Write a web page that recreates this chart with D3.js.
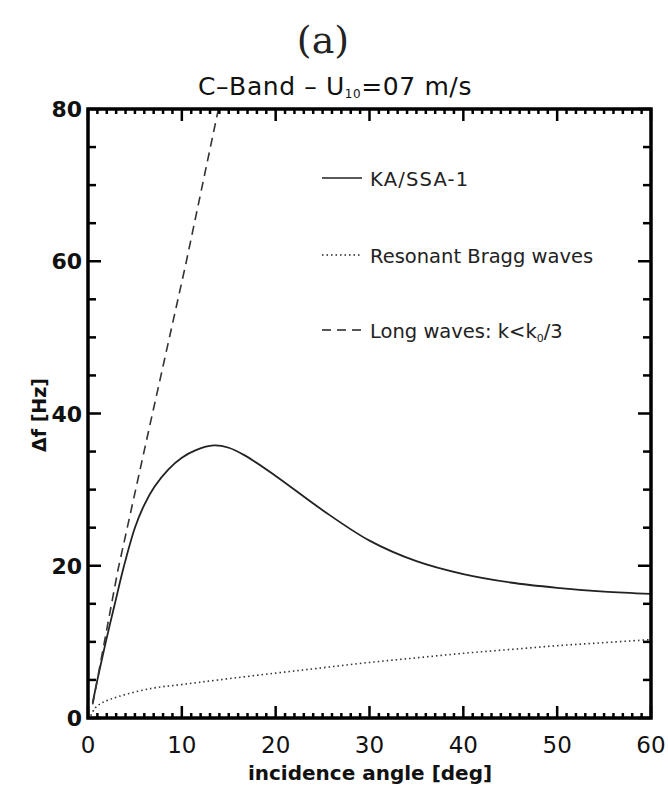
<!DOCTYPE html>
<html><head><meta charset="utf-8">
<script src="https://cdn.jsdelivr.net/npm/d3@7"></script>
<style>body{margin:0;background:#fff}</style>
</head><body>
<svg id="c" width="668" height="786"></svg>
<script>
const xTicks = [0,10,20,30,40,50,60];
const yTicks = [0,20,40,60,80];
const kaSsa = [[0.5,2.0],[1.0,5],[1.9,10],[2.9,15.2],[3.8,19.8],[5.0,25],[6.0,28],[7.1,30.4],[8.6,32.7],[10,34.2],[11.5,35.2],[13.4,35.8],[15,35.5],[16.7,34.5],[20,31.8],[25,27.3],[30,23.3],[35,20.6],[40,18.9],[45,17.8],[50,17.1],[55,16.6],[60,16.3]];
const bragg = [[0.3,0.3],[0.75,1.3],[1.5,2.0],[3.2,2.8],[6.8,3.9],[10,4.4],[13.9,5.0],[20,5.9],[25,6.6],[30,7.3],[35,7.9],[40,8.5],[45,9.0],[50,9.5],[55,9.9],[60,10.3]];
const longW = [[0.5,1.8],[3.2,19.5],[6.6,38.5],[10.4,59.5],[13.9,80]];
const legendLabels = ["KA/SSA-1","Resonant Bragg waves","Long waves: k<k"];

const svg = d3.select("#c");
const L=88,R=651,T=109,B=718;
const x = d3.scaleLinear().domain([0,60]).range([L,R]);
const y = d3.scaleLinear().domain([0,80]).range([B,T]);
const font = "'DejaVu Sans', sans-serif";

// title
svg.append("text").attr("x",323).attr("y",53).attr("text-anchor","middle")
  .attr("font-family","'DejaVu Serif', serif").attr("font-size",38).attr("fill","#222").text("(a)");
const tt = svg.append("text").attr("x",335).attr("y",95).attr("text-anchor","middle")
  .attr("font-family",font).attr("font-size",25).attr("letter-spacing",0.6).attr("fill","#111");
tt.append("tspan").text("C\u2013Band  \u2013  U");
tt.append("tspan").attr("font-size",12).attr("dy",3).text("10");
tt.append("tspan").attr("dy",-3).text("=07 m/s");

// clip
svg.append("clipPath").attr("id","clip").append("rect").attr("x",L).attr("y",T).attr("width",R-L).attr("height",B-T);

const line = d3.line().x(d=>x(d[0])).y(d=>y(d[1])).curve(d3.curveCatmullRom.alpha(0.5));
const g = svg.append("g").attr("clip-path","url(#clip)");
g.append("path").datum(kaSsa).attr("d",line).attr("fill","none").attr("stroke","#222").attr("stroke-width",1.8);
g.append("path").datum(bragg).attr("d",line).attr("fill","none").attr("stroke","#333").attr("stroke-width",1.6).attr("stroke-dasharray","1.5,3");
g.append("path").datum(longW).attr("d",d3.line().x(d=>x(d[0])).y(d=>y(d[1]))).attr("fill","none").attr("stroke","#333").attr("stroke-width",1.6).attr("stroke-dasharray","9,6");

// axes (inward ticks)
const ax = svg.append("g").attr("stroke","#000");
const xMinor = d3.range(0,61,1), yMinor = d3.range(0,81,5);
xMinor.forEach(v=>{
  const len = v%10===0?12:5;
  ax.append("line").attr("x1",x(v)).attr("x2",x(v)).attr("y1",B).attr("y2",B-len).attr("stroke-width",2.5);
  ax.append("line").attr("x1",x(v)).attr("x2",x(v)).attr("y1",T).attr("y2",T+len).attr("stroke-width",2.5);
});
yMinor.forEach(v=>{
  const len = v%20===0?13:8;
  ax.append("line").attr("x1",L).attr("x2",L+len).attr("y1",y(v)).attr("y2",y(v)).attr("stroke-width",2.5);
  ax.append("line").attr("x1",R).attr("x2",R-len).attr("y1",y(v)).attr("y2",y(v)).attr("stroke-width",2.5);
});
svg.append("rect").attr("x",L).attr("y",T).attr("width",R-L).attr("height",B-T).attr("fill","none").attr("stroke","#000").attr("stroke-width",3.5);

xTicks.forEach(v=>{
  svg.append("text").attr("x",x(v)).attr("y",753).attr("text-anchor","middle")
    .attr("font-family",font).attr("font-size",23).attr("fill","#111").text(v);
});
yTicks.forEach(v=>{
  svg.append("text").attr("x",L-6).attr("y",y(v)+8).attr("text-anchor","end")
    .attr("font-family",font).attr("font-size",22).attr("font-weight","bold").attr("fill","#111").text(v);
});
svg.append("text").attr("x",370).attr("y",780).attr("text-anchor","middle")
  .attr("font-family",font).attr("font-size",20).attr("font-weight","bold").attr("fill","#111").text("incidence angle [deg]");
svg.append("text").attr("transform","translate(46,415) rotate(-90)").attr("text-anchor","middle")
  .attr("font-family",font).attr("font-size",19).attr("font-weight","bold").attr("fill","#111").text("\u0394f [Hz]");

// legend
const legY=[178,255,330], dashes=[null,"1.5,3","9,6"];
legendLabels.forEach((t,i)=>{
  svg.append("line").attr("x1",322).attr("x2",362).attr("y1",legY[i]).attr("y2",legY[i])
    .attr("stroke","#222").attr("stroke-width",1.6).attr("stroke-dasharray",dashes[i]);
  const tx = svg.append("text").attr("x",370).attr("y",legY[i]+8).attr("font-family",font)
    .attr("font-size",19.5).attr("fill","#222").text(t);
  if(i===0) tx.attr("letter-spacing",1.2);
  if(i===2){ tx.append("tspan").attr("font-size",11).attr("dy",4).text("0"); tx.append("tspan").attr("dy",-4).text("/3"); }
});
</script>
</body></html>
